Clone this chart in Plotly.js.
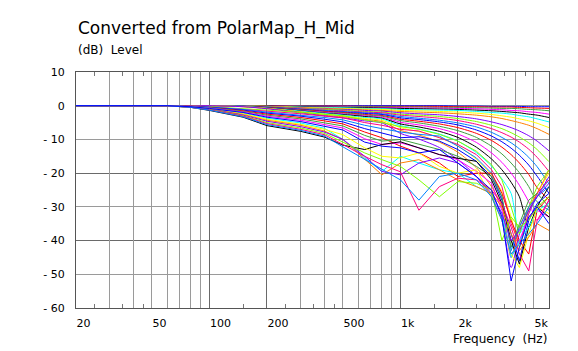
<!DOCTYPE html>
<html><head><meta charset="utf-8">
<script src="https://cdn.plot.ly/plotly-3.0.1.min.js"></script>
<style>html,body{margin:0;padding:0;background:#fff}#c{width:578px;height:351px}</style>
</head><body><div id="c"></div>
<script>
// Frequency grid (Hz)
const freq = [20, 60, 80, 100, 150, 200, 300, 400, 500, 650, 800, 1000, 1250, 1600, 2000, 2500, 3000, 3400, 3800, 4200, 4700, 5200, 6000];
// Horizontal angles (deg)
const angles = [0,5,10,15,20,25,30,35,40,45,50,55,60,65,70,75,80,85,90,95,100,105,110,115,120,125,130,135,140,145,150,155,160,165,170,175,180];

// Level (dB) per angle
const a0  = [0,0,0,0,0,0,0,0,0,0,0,0,0,0,-0.1,-0.1,-0.2,-0.2,-0.2,-0.2,-0.3,-0.3,-0.3];
const a1  = [0,0,0,0,0,0,-0.1,-0.1,-0.1,-0.2,-0.2,-0.2,-0.2,-0.2,-0.3,-0.3,-0.4,-0.4,-0.4,-0.5,-0.6,-0.7,-0.8];
const a2  = [0,0,0,0,0,-0.1,-0.1,-0.2,-0.2,-0.3,-0.3,-0.4,-0.4,-0.5,-0.5,-0.6,-0.7,-0.8,-0.8,-0.9,-1.1,-1.2,-1.5];
const a3  = [0,0,0,0,0,-0.1,-0.2,-0.3,-0.4,-0.5,-0.5,-0.6,-0.7,-0.7,-0.8,-0.9,-1.1,-1.2,-1.4,-1.5,-1.8,-2.0,-2.5];
const a4  = [0,0,0,0,0,-0.1,-0.3,-0.4,-0.5,-0.6,-0.7,-0.8,-0.9,-1.0,-1.1,-1.3,-1.5,-1.7,-1.9,-2.1,-2.5,-2.8,-3.5];
const a5  = [0,0,0,0,-0.1,-0.2,-0.4,-0.5,-0.6,-0.8,-0.9,-1.1,-1.2,-1.3,-1.4,-1.7,-2.0,-2.2,-2.5,-2.9,-3.3,-3.9,-4.8];
const a6  = [0,0,0,0,-0.1,-0.2,-0.5,-0.7,-0.8,-1.0,-1.1,-1.4,-1.5,-1.7,-1.9,-2.2,-2.6,-3.0,-3.4,-3.9,-4.5,-5.2,-6.5];
const a7  = [0,0,0,0,-0.1,-0.2,-0.6,-0.8,-1.0,-1.2,-1.4,-1.7,-1.9,-2.1,-2.4,-2.8,-3.3,-3.8,-4.4,-5.0,-5.8,-6.8,-8.5];
const a8  = [0,0,0,0,-0.1,-0.3,-0.7,-1.0,-1.1,-1.4,-1.6,-2.1,-2.4,-2.7,-3.2,-3.9,-4.8,-5.6,-6.5,-7.5,-8.9,-10.5,-13.4];
const a9  = [0,0,0,0,-0.1,-0.3,-0.8,-1.1,-1.3,-1.7,-1.9,-2.5,-2.8,-3.2,-3.8,-4.7,-5.8,-6.8,-8.0,-9.3,-11.0,-13.0,-16.6];
const a10 = [0,0,0,0,-0.1,-0.4,-0.9,-1.3,-1.5,-1.9,-2.1,-2.8,-3.2,-3.7,-4.4,-5.5,-6.8,-8.0,-9.3,-10.8,-12.9,-15.3,-19.5];
const a11 = [0,0,0,0,-0.1,-0.4,-1.0,-1.4,-1.7,-2.1,-2.4,-3.2,-3.7,-4.3,-5.1,-6.3,-7.9,-9.4,-11.0,-12.8,-15.3,-18.1,-23.2];
const a12 = [0,0,0,0,-0.2,-0.5,-1.1,-1.6,-1.9,-2.3,-2.6,-3.6,-4.1,-4.8,-5.7,-7.2,-9.0,-10.7,-12.6,-14.7,-17.6,-20.9,-26.0];
const a13 = [0,0,0,0,-0.2,-0.5,-1.2,-1.7,-2.0,-2.6,-2.9,-4.0,-4.6,-5.4,-6.5,-8.2,-10.3,-12.3,-14.5,-17.0,-20.4,-24.3,-28.0];
const a14 = [0,0,0,0,-0.2,-0.6,-1.3,-1.9,-2.2,-2.8,-3.1,-4.4,-5.1,-6.1,-7.4,-9.4,-12.0,-14.3,-17.0,-19.9,-24.0,-28.5,-31.0];
const a15 = [0,0,0,0,-0.2,-0.6,-1.4,-2.0,-2.4,-3.0,-3.4,-4.9,-5.7,-6.8,-8.4,-10.9,-14.0,-16.8,-20.0,-23.6,-28.5,-34.0,-28.0];
const a16 = [0,0,0,0,-0.2,-0.6,-1.5,-2.2,-2.6,-3.2,-3.7,-5.4,-6.3,-7.6,-9.4,-12.3,-15.8,-19.0,-22.7,-27.0,-36.0,-30.0,-24.0];
const a17 = [0,0,0,0,-0.2,-0.7,-1.6,-2.3,-2.8,-3.5,-3.9,-5.9,-6.9,-8.4,-10.5,-13.9,-17.9,-21.7,-26.0,-38.0,-32.0,-27.0,-22.0];
const a18 = [0,0,0,0,-0.3,-0.8,-1.8,-2.5,-3.0,-3.8,-4.3,-6.5,-7.7,-9.4,-11.9,-15.9,-20.6,-25.5,-33.0,-42.0,-31.0,-26.0,-20.0];
const a19 = [0,0,0,0,-0.3,-0.8,-1.9,-2.8,-3.3,-4.1,-4.7,-7.3,-8.7,-10.8,-13.8,-18.4,-24.0,-30.0,-45.0,-36.0,-30.0,-26.0,-19.0];
const a20 = [0,0,0,0,-0.3,-0.9,-2.1,-3.0,-3.6,-4.5,-5.1,-8.2,-9.9,-12.4,-16.0,-21.0,-27.0,-34.0,-48.0,-38.0,-31.0,-27.0,-21.0];
const a21 = [0,0,-0.1,-0.3,-0.8,-1.3,-2.0,-2.5,-3.0,-4.2,-5.0,-6.2,-7.0,-8.5,-10.5,-13.5,-17.5,-22,-30,-38,-30,-24,-19];
const a22 = [0,0,-0.1,-0.4,-1.0,-1.6,-2.4,-3.0,-3.6,-5.0,-5.8,-7.0,-7.5,-9.5,-11.5,-14.5,-19,-24,-35,-41,-32,-26,-22];
const a23 = [0,0,-0.2,-0.4,-1.1,-1.9,-2.8,-3.5,-4.2,-5.8,-6.8,-7.8,-8.5,-9.0,-12,-15.5,-20,-27,-43,-36,-30,-27,-24];
const a24 = [0,0,-0.2,-0.5,-1.3,-2.2,-3.1,-4.0,-4.8,-6.8,-8.0,-9.5,-9.2,-10.5,-13,-16.5,-21,-28,-38,-46,-34,-29,-26];
const a25 = [0,0,-0.2,-0.6,-1.5,-2.5,-3.5,-4.5,-5.4,-7.8,-9.5,-12,-14,-17,-21,-20,-20,-26,-34,-40,-44,-31,-27];
const a26 = [0,0,-0.3,-0.6,-1.7,-2.8,-3.9,-5.0,-6.0,-8.8,-10.5,-10.0,-11.5,-13,-15,-18,-21,-27,-42,-35,-28,-26,-30];
const a27 = [0,0,-0.3,-0.7,-1.9,-3.1,-4.3,-5.5,-6.6,-9.8,-11.5,-11.0,-12.5,-14.5,-16,-19.5,-23,-31,-45,-40,-33,-31,-33];
const a28 = [0,0,-0.5,-1.4,-3.4,-5.9,-7.6,-9.3,-11.7,-13,-11.5,-10.7,-12.5,-14.5,-15.6,-16.5,-22,-29,-40,-47,-36,-30,-33];
const a29 = [0,0,-0.3,-0.8,-2.2,-3.7,-5.1,-6.7,-10,-15.5,-19.5,-15,-17,-19,-20,-24,-26,-32,-45,-40,-36,-31,-29];
const a30 = [0,0,-0.4,-0.9,-2.4,-4.0,-5.5,-7.0,-8.6,-12.5,-15,-15.5,-14,-18,-20,-19,-27,-34,-44,-48,-38,-30,-32];
const a31 = [0,0,-0.4,-1.0,-2.6,-4.3,-5.8,-7.5,-10,-16,-20.5,-17,-16,-19,-22,-24,-26,-30,-38,-43,-39,-35,-37];
const a32 = [0,0,-0.4,-1.0,-2.8,-4.6,-6.2,-7.8,-10,-15,-19.5,-20.5,-17,-15.5,-17,-21,-26,-32,-40,-37,-31,-27,-23];
const a33 = [0,0,-0.5,-1.1,-3.0,-5.0,-6.6,-8.2,-10.8,-14,-16,-18,-22,-27,-22.5,-23,-25,-40,-33,-36,-34,-30,-27];
const a34 = [0,0,-0.5,-1.2,-3.1,-5.3,-7.0,-8.6,-11.5,-15,-17.5,-19.6,-31,-24,-21.5,-22,-25,-29,-36,-44,-49,-34,-28];
const a35 = [0,0,-0.5,-1.3,-3.3,-5.6,-7.3,-9.0,-12.2,-16,-19,-22,-28,-21,-20,-22,-27,-34,-44,-41,-38,-35,-30];
const a36 = [0,0,-0.3,-0.8,-2.0,-3.4,-4.7,-6.0,-7.2,-10.8,-12.0,-12.5,-14,-13,-17,-21,-25,-33,-52,-42,-33,-30,-35];

const series = [a0,a1,a2,a3,a4,a5,a6,a7,a8,a9,a10,a11,a12,a13,a14,a15,a16,a17,a18,a19,a20,
                a21,a22,a23,a24,a25,a26,a27,a28,a29,a30,a31,a32,a33,a34,a35,a36];

// Axis tick labels and grid positions
const xTickVals = [20, 50, 100, 200, 500, 1000, 2000, 5000];
const xTickText = ['20', '50', '100', '200', '500', '1k', '2k', '5k'];
const yTickVals = [10, 0, -10, -20, -30, -40, -50, -60];
const yTickText = ['10', '0', '- 10', '- 20', '- 30', '- 40', '- 50', '- 60'];
const xGridLight = [30,40,50,60,70,80,90,300,400,500,600,700,800,900,3000,4000,5000];
const xGridDark = [100,200,1000,2000];
const xMinor = [25,35,45,150,250,350,450,1500,2500,3500,4500];
const yGridDark = [-20,-40];

const PAL = ['#0000FF','#FF0000','#40A040','#FF00FF','#000000','#00FFFF','#FFFF00','#FF8000','#8000FF','#80FF00','#FF0080','#0080FF'];
const FONT = 'DejaVu Sans, Verdana, sans-serif';

// helper (empty) traces so the overlay grid axes are drawn
const helpers = [
  {x: [100], y: [null], xaxis: 'x2', yaxis: 'y', type: 'scatter', mode: 'lines', hoverinfo: 'skip', showlegend: false},
  {x: [100], y: [null], xaxis: 'x3', yaxis: 'y', type: 'scatter', mode: 'lines', hoverinfo: 'skip', showlegend: false},
  {x: [100], y: [null], xaxis: 'x4', yaxis: 'y', type: 'scatter', mode: 'lines', hoverinfo: 'skip', showlegend: false},
  {x: [100], y: [null], xaxis: 'x', yaxis: 'y2', type: 'scatter', mode: 'lines', hoverinfo: 'skip', showlegend: false}
];

const traces = series.map((v, i) => ({
  x: freq, y: v, type: 'scatter', mode: 'lines', name: angles[i] + '°',
  xaxis: 'x', yaxis: 'y',
  line: {color: PAL[i % PAL.length], width: 1, shape: i <= 20 ? 'spline' : 'linear', smoothing: 0.7},
  hoverinfo: 'skip', showlegend: false
}));

const lr = [Math.log10(20), Math.log10(6000)];
const yr = [-60, 10];
const common = {type: 'log', range: lr, tickmode: 'array', showticklabels: false, ticks: '', zeroline: false, showline: false};
const layout = {
  width: 578, height: 351,
  margin: {l: 76, r: 29, t: 72, b: 43, pad: 0},
  paper_bgcolor: '#ffffff', plot_bgcolor: '#ffffff',
  showlegend: false,
  font: {family: FONT, size: 11, color: '#000'},
  xaxis: {type: 'log', range: lr, tickmode: 'array', tickvals: xTickVals, ticktext: xTickText,
          ticks: '', showgrid: false, zeroline: false, showline: true, linecolor: '#555', linewidth: 1, mirror: true,
          ticklabelposition: 'outside right', ticklabelstandoff: 5, tickfont: {family: FONT, size: 11, color: '#000'}},
  xaxis2: Object.assign({}, common, {overlaying: 'x', anchor: 'y', tickvals: xGridLight, showgrid: true, gridcolor: '#9a9a9a', gridwidth: 1}),
  xaxis3: Object.assign({}, common, {overlaying: 'x', anchor: 'y', tickvals: xGridDark, showgrid: true, gridcolor: '#6a6a6a', gridwidth: 1}),
  xaxis4: Object.assign({}, common, {overlaying: 'x', anchor: 'y', tickvals: xMinor, showgrid: false, ticks: 'inside', ticklen: 4,
          tickcolor: '#777', tickwidth: 1, showline: true, linecolor: '#555', mirror: 'ticks'}),
  yaxis: {range: yr, tickmode: 'array', tickvals: yTickVals, ticktext: yTickText, ticks: '',
          showgrid: true, gridcolor: '#9a9a9a', gridwidth: 1, zeroline: false, showline: true, linecolor: '#555', linewidth: 1, mirror: true,
          ticklabelstandoff: 8, tickfont: {family: FONT, size: 11, color: '#000'}},
  yaxis2: {range: yr, overlaying: 'y', anchor: 'x', tickmode: 'array', tickvals: yGridDark, showgrid: true, gridcolor: '#6a6a6a',
           showticklabels: false, ticks: '', zeroline: false, showline: false},
  annotations: [
    {text: 'Converted from PolarMap_H_Mid', xref: 'paper', yref: 'paper', x: 0, y: 1.186, xanchor: 'left', yanchor: 'middle',
     showarrow: false, font: {family: FONT, size: 17, color: '#000'}},
    {text: '(dB)\u00A0 Level', xref: 'paper', yref: 'paper', x: 0, y: 1.093, xanchor: 'left', yanchor: 'middle',
     showarrow: false, font: {family: FONT, size: 12, color: '#000'}},
    {text: 'Frequency\u00A0 (Hz)', xref: 'paper', yref: 'paper', x: 1, y: -0.131, xanchor: 'right', yanchor: 'middle',
     showarrow: false, font: {family: FONT, size: 12, color: '#000'}}
  ]
};

Plotly.newPlot('c', helpers.concat(traces), layout, {staticPlot: true, displayModeBar: false});
</script>
</body></html>
